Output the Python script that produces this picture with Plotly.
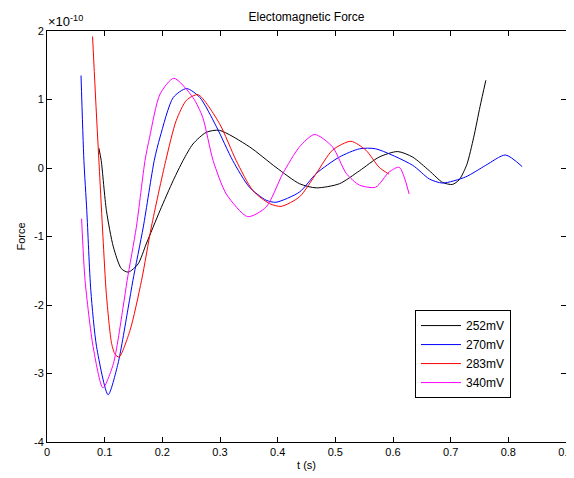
import plotly.graph_objects as go

# Values in units of 1e-10
labels = ["252mV", "270mV", "283mV", "340mV"]
colors = ["#000000", "#0000FF", "#FF0000", "#FF00FF"]

t_252 = [0.090, 0.094, 0.103, 0.115, 0.129, 0.141, 0.158, 0.172, 0.196, 0.219, 0.236, 0.253, 0.276,
         0.299, 0.351, 0.397, 0.438, 0.467, 0.507, 0.542, 0.576, 0.608, 0.634, 0.663, 0.686, 0.703,
         0.715, 0.728, 0.740, 0.751, 0.761]
f_252 = [0.29, 0.11, -0.62, -1.15, -1.47, -1.52, -1.40, -1.11, -0.62, -0.18, 0.11, 0.35, 0.52,
         0.55, 0.31, 0.01, -0.23, -0.29, -0.23, -0.04, 0.16, 0.24, 0.16, -0.04, -0.21, -0.24,
         -0.17, 0.05, 0.45, 0.90, 1.28]

t_270 = [0.059, 0.064, 0.069, 0.076, 0.086, 0.106, 0.123, 0.141, 0.149, 0.167, 0.186, 0.196, 0.219,
         0.242, 0.265, 0.294, 0.322, 0.351, 0.380, 0.397, 0.438, 0.467, 0.507, 0.542, 0.570, 0.634,
         0.663, 0.686, 0.726, 0.761, 0.795, 0.824]
f_270 = [1.35, 0.11, -0.62, -1.79, -2.61, -3.31, -2.86, -2.03, -1.64, -0.86, 0.11, 0.45, 1.03,
         1.16, 1.03, 0.60, 0.11, -0.28, -0.47, -0.50, -0.35, -0.08, 0.16, 0.28, 0.28, 0.04,
         -0.16, -0.22, -0.13, 0.04, 0.19, 0.02]

t_283 = [0.079, 0.085, 0.091, 0.097, 0.103, 0.112, 0.118, 0.125, 0.144, 0.164, 0.181, 0.206, 0.224,
         0.242, 0.262, 0.299, 0.328, 0.357, 0.386, 0.406, 0.438, 0.467, 0.495, 0.527, 0.553, 0.576,
         0.593]
f_283 = [1.92, 0.90, -0.05, -1.00, -1.85, -2.56, -2.72, -2.76, -2.37, -1.64, -0.86, 0.11, 0.69,
         0.99, 1.07, 0.65, 0.11, -0.33, -0.52, -0.56, -0.42, -0.08, 0.26, 0.39, 0.26, 0.01,
         -0.09]

t_340 = [0.060, 0.066, 0.080, 0.097, 0.115, 0.132, 0.139, 0.155, 0.170, 0.178, 0.196, 0.220,
         0.253, 0.270, 0.288, 0.311, 0.348, 0.380, 0.409, 0.438, 0.464, 0.495, 0.519, 0.542, 0.570,
         0.593, 0.611, 0.628]
f_340 = [-0.74, -1.64, -2.61, -3.21, -2.86, -2.03, -1.64, -0.86, 0.11, 0.45, 1.08, 1.31,
         1.03, 0.74, 0.11, -0.38, -0.71, -0.57, -0.08, 0.31, 0.49, 0.31, -0.08, -0.25, -0.28,
         -0.06, 0.01, -0.38]

series = [(t_252, f_252), (t_270, f_270), (t_283, f_283), (t_340, f_340)]

x_ticks = [0, 0.1, 0.2, 0.3, 0.4, 0.5, 0.6, 0.7, 0.8, 0.9]
x_tick_text = ["0", "0.1", "0.2", "0.3", "0.4", "0.5", "0.6", "0.7", "0.8", "0.9"]
y_ticks = [-4, -3, -2, -1, 0, 1, 2]
y_tick_text = ["-4", "-3", "-2", "-1", "0", "1", "2"]

font_family = "Liberation Sans, Arial, sans-serif"

fig = go.Figure()
for (t, f), name, c in zip(series, labels, colors):
    fig.add_trace(go.Scatter(x=t, y=f, mode="lines", name=name,
                             line=dict(color=c, width=1, shape="spline", smoothing=0.7)))

axis_common = dict(showline=True, linecolor="black", linewidth=1, mirror="ticks",
                   ticks="inside", ticklen=5, tickcolor="black", showgrid=False,
                   zeroline=False, automargin=False,
                   tickfont=dict(family=font_family, size=11, color="black"))

fig.update_layout(
    width=566, height=470,
    margin=dict(l=39, r=8, t=23, b=36),
    paper_bgcolor="white", plot_bgcolor="white",
    font=dict(family=font_family, size=11, color="black"),
    title=dict(text="Electomagnetic Force", xref="paper", x=0.5, xanchor="center",
               y=0.981, yanchor="middle", font=dict(size=12, color="black")),
    xaxis=dict(range=[0, 0.9], tickvals=x_ticks, ticktext=x_tick_text,
               title=dict(text="t (s)", standoff=4, font=dict(size=11)), **axis_common),
    yaxis=dict(range=[-4, 2], tickvals=y_ticks, ticktext=y_tick_text,
               title=dict(text="Force", standoff=6, font=dict(size=11)), **axis_common),
    legend=dict(x=0.709, y=0.321, xanchor="left", yanchor="top",
                bgcolor="white", bordercolor="black", borderwidth=1,
                font=dict(size=12), tracegroupgap=0, itemwidth=40),
    showlegend=True,
)

fig.add_annotation(text="×10<sup>-10</sup>", xref="paper", yref="paper", x=0.035, y=1.0,
                   xanchor="center", yanchor="bottom", showarrow=False,
                   font=dict(size=13, color="black"))

fig.write_html("out.html")
